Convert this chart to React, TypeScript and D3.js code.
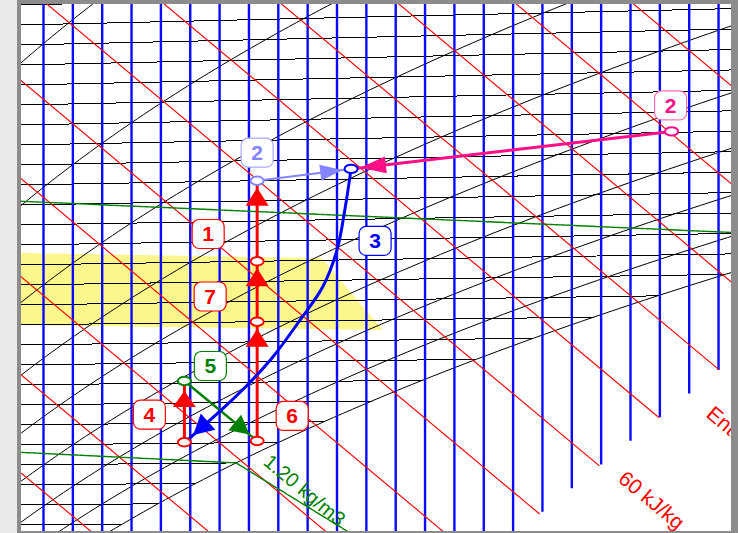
import React from 'react';
import * as d3 from 'd3';

const WIDTH = 738;
const HEIGHT = 533;

// ---- chart constants (Mollier h-x diagram) ----
const PRESSURE = 99900; // Pa
const ENTHALPY_SHIFT = 2.32; // kJ/kg, reference offset of the enthalpy labels

// grid values
const MOISTURE_LINES = [7.5, 8, 8.5, 9, 9.5, 10, 10.5, 11, 11.5, 12, 12.5, 13, 13.5, 14, 14.5, 15, 15.5, 16, 16.5, 17, 17.5, 18, 18.5, 19];
const ISOTHERMS = [11, 12, 13, 14, 15, 16, 17, 18, 19, 20, 21, 22, 23, 24, 25, 26, 27, 28, 29, 30, 31, 32, 33, 34, 35, 36, 37, 38, 39];
const ENTHALPY_LINES = [30, 35, 40, 45, 50, 55, 60, 65, 70, 75, 80, 85];
const RH_LINES = [0.2, 0.3, 0.4, 0.5, 0.6, 0.7, 0.8, 0.9, 1.0];
const DENSITY_LINES = [1.15, 1.2];
const LOWER_EDGE_X = [16, 19];
const LOWER_EDGE_Y = [12.9, 20.13];

// comfort zone (x g/kg, t °C)
const COMFORT_X = [6.5, 12.24, 13.28, 6.5];
const COMFORT_T = [25.66, 25.11, 21.5, 22.05];

// process states (x g/kg, t °C)
const STATE_NAMES = ['A', 'B', 'C', 'D', 'E', 'F', 'G', 'H'];
const STATE_X = [9.9, 9.9, 11.14, 11.14, 11.14, 11.14, 12.74, 18.2];
const STATE_T = [16.05, 19.1, 16.08, 22.0, 25.0, 29.0, 29.5, 31.05];

// cooling curve G -> A
const COOL_X = [12.74, 12.64, 12.5, 12.26, 11.87, 11.41, 11.02, 10.59, 9.91];
const COOL_T = [29.5, 27.6, 25.5, 23.7, 22.05, 20.25, 19.0, 17.8, 16.05];

const RED = '#ff0000';
const GREEN = '#008000';
const BLUE = '#0000ff';
const LBLUE = '#8484ff';
const MAGENTA = '#ff0f87';

const STATE_COLORS = [RED, GREEN, RED, RED, RED, LBLUE, BLUE, MAGENTA];

const ps = (t: number) => 610.94 * Math.exp((17.625 * t) / (t + 243.04));
const xFromPv = (pv: number) => (622 * pv) / (PRESSURE - pv);
const xSat = (t: number) => xFromPv(ps(t));
const Yof = (xv: number, t: number) => (1.006 + 0.00186 * xv) * t;
const edgeSlope = (LOWER_EDGE_Y[1] - LOWER_EDGE_Y[0]) / (LOWER_EDGE_X[1] - LOWER_EDGE_X[0]);
const edgeY = (xv: number) => LOWER_EDGE_Y[0] + (xv - LOWER_EDGE_X[0]) * edgeSlope;

function tForRhoUnsat(rho: number, xv: number) {
  const pv = (xv * PRESSURE) / (622 + xv);
  return ((PRESSURE - pv) / 287.05 + pv / 461.5) / rho - 273.15;
}
function rhoFog(t: number, xv: number) {
  const xs = xSat(t);
  return (PRESSURE * (1 + xv / 1000)) / (287.05 * (t + 273.15) * (1 + (1.608 * xs) / 1000));
}
function YFog(t: number, xv: number) {
  const xs = xSat(t);
  return 1.006 * t + xs * (2.501 + 0.00186 * t) + (xv - xs) * 0.00419 * t - 2.501 * xv;
}

export default function App() {
  const x = d3.scaleLinear().domain([7.5, 19]).range([43.5, 718.55]);
  const y = d3.scaleLinear().domain([38.73, 12]).range([5, 5 + 26.73 * 19.62]);
  const P = (xv: number, t: number): [number, number] => [x(xv), y(Yof(xv, t))];
  const line = d3.line<[number, number]>();

  const isoPaths = ISOTHERMS.map((t) => {
    const xe = Math.min(xSat(t), 21);
    return line([P(6.5, t), P(xe, t)]);
  });

  const rhPaths = RH_LINES.map((phi) => {
    const pts: [number, number][] = [];
    for (let t = 0; t <= 50; t += 0.2) {
      const xv = xFromPv(phi * ps(t));
      if (xv < 5 || xv > 22) continue;
      pts.push(P(xv, t));
    }
    return line(pts);
  });

  const enthPaths = ENTHALPY_LINES.map((h) => {
    const hh = h - ENTHALPY_SHIFT;
    const b0 = LOWER_EDGE_Y[0] - LOWER_EDGE_X[0] * edgeSlope;
    const xe = (hh - b0) / (2.501 + edgeSlope);
    const pts: [number, number][] = [
      [x(5), y(hh - 2.501 * 5)],
      [x(xe), y(hh - 2.501 * xe)],
    ];
    return { h, d: line(pts), end: pts[1] };
  });

  const moistPaths = MOISTURE_LINES.map((m) => line([[x(m), y(42)], [x(m), y(edgeY(m))]]));

  const densPaths = DENSITY_LINES.map((rho) => {
    const pts: [number, number][] = [];
    let bend: [number, number] | null = null;
    for (let xv = 6.5; xv <= 21; xv += 0.05) {
      const t = tForRhoUnsat(rho, xv);
      if (xv <= xSat(t)) {
        pts.push(P(xv, t));
      } else {
        let lo = -20, hi = 50;
        for (let i = 0; i < 60; i++) {
          const mid = (lo + hi) / 2;
          if (rhoFog(mid, xv) > rho) lo = mid; else hi = mid;
        }
        const tf = (lo + hi) / 2;
        const Yv = YFog(tf, xv);
        if (Yv < edgeY(xv)) break;
        if (!bend) bend = pts[pts.length - 1];
        pts.push([x(xv), y(Yv)]);
      }
    }
    return { rho, d: line(pts), pts, bend };
  });

  const comfort = line(COMFORT_X.map((xv, i) => P(xv, COMFORT_T[i]))) + 'Z';

  const S: Record<string, [number, number]> = {};
  STATE_NAMES.forEach((n, i) => (S[n] = P(STATE_X[i], STATE_T[i])));

  const coolPts = COOL_X.map((xv, i) => P(xv, COOL_T[i]));
  const coolPath = d3.line<[number, number]>().curve(d3.curveCatmullRom.alpha(0.5))(coolPts);

  const head = (from: [number, number], to: [number, number], gap: number, len: number, w: number) => {
    const dx = to[0] - from[0], dy = to[1] - from[1];
    const L = Math.hypot(dx, dy);
    const ux = dx / L, uy = dy / L;
    const tx = to[0] - ux * gap, ty = to[1] - uy * gap;
    const bx = tx - ux * len, by = ty - uy * len;
    const nx = -uy, ny = ux;
    return `M${tx},${ty}L${bx + (nx * w) / 2},${by + (ny * w) / 2}L${bx - (nx * w) / 2},${by - (ny * w) / 2}Z`;
  };

  const straight = [
    { a: 'E', b: 'F', c: RED, w: 3, gap: 7, len: 18, hw: 23 },
    { a: 'D', b: 'E', c: RED, w: 3, gap: 7, len: 18, hw: 23 },
    { a: 'C', b: 'D', c: RED, w: 3, gap: 7, len: 18, hw: 23 },
    { a: 'A', b: 'B', c: RED, w: 3, gap: 10, len: 16, hw: 23 },
    { a: 'B', b: 'C', c: GREEN, w: 2.5, gap: 10, len: 19, hw: 20 },
    { a: 'F', b: 'G', c: LBLUE, w: 2, gap: 9, len: 22, hw: 16 },
    { a: 'H', b: 'G', c: MAGENTA, w: 3, gap: 9, len: 26, hw: 17 },
  ];

  const mid = (a: string, b: string): [number, number] => [(S[a][0] + S[b][0]) / 2, (S[a][1] + S[b][1]) / 2];
  const labels = [
    { t: '1', c: RED, s: RED, at: mid('E', 'F'), dx: -49, dy: 13 },
    { t: '2', c: LBLUE, s: '#a8a8ff', at: S['F'], dx: 0, dy: -28 },
    { t: '2', c: MAGENTA, s: '#ff70b8', at: S['H'], dx: -1, dy: -26 },
    { t: '3', c: BLUE, s: BLUE, at: S['G'], dx: 24, dy: 72 },
    { t: '4', c: RED, s: RED, at: mid('A', 'B'), dx: -35, dy: 3 },
    { t: '5', c: GREEN, s: GREEN, at: S['B'], dx: 26, dy: -15 },
    { t: '6', c: RED, s: RED, at: S['C'], dx: 35, dy: -25 },
    { t: '7', c: RED, s: RED, at: mid('D', 'E'), dx: -47, dy: 5 },
  ];

  const e60 = enthPaths.find((e) => e.h === 60)!;
  const angE = (Math.atan2(2.501 * 19.62, 58.7) * 180) / Math.PI;
  const ue = [Math.cos((angE * Math.PI) / 180), Math.sin((angE * Math.PI) / 180)];
  const e60a: [number, number] = [e60.end[0] + ue[0] * 23, e60.end[1] + ue[1] * 23];

  const d120 = densPaths.find((d) => d.rho === 1.2)!;
  const bend = d120.bend || [235, 459];
  const dLab: [number, number] = [bend[0] + 28, bend[1] + 1];

  const coolN = coolPts.length;
  const rotFont = "Arial, 'Liberation Sans', sans-serif";

  return (
    <div style={{ position: 'absolute', left: 0, top: 0 }}>
      <svg width={WIDTH} height={HEIGHT} style={{ display: 'block' }} fontFamily="Arial, 'Liberation Sans', sans-serif">
        <defs>
          <clipPath id="plot">
            <rect x={21} y={4} width={710} height={527} />
          </clipPath>
        </defs>
        <rect x={0} y={0} width={WIDTH} height={HEIGHT} fill="#ebebeb" />
        <rect x={17} y={0} width={WIDTH - 17} height={HEIGHT} fill="#8c8c8c" />
        <rect x={21} y={4} width={710} height={527} fill="#ffffff" />
        <g clipPath="url(#plot)">
          <path d={comfort} fill="#fbf78c" stroke="none" />
          {isoPaths.map((d, i) => (
            <path key={'i' + i} d={d!} stroke="#000" strokeWidth={1} fill="none" shapeRendering="crispEdges" />
          ))}
          {rhPaths.map((d, i) => (
            <path key={'r' + i} d={d!} stroke="#000" strokeWidth={1} fill="none" />
          ))}
          {moistPaths.map((d, i) => (
            <path key={'m' + i} d={d!} stroke="#0a0aff" strokeWidth={2.4} fill="none" />
          ))}
          {enthPaths.map((e, i) => (
            <path key={'e' + i} d={e.d!} stroke={RED} strokeWidth={1.15} fill="none" />
          ))}
          {densPaths.map((d, i) => (
            <path key={'d' + i} d={d.d!} stroke={GREEN} strokeWidth={1.4} fill="none" />
          ))}
          <text x={e60a[0]} y={e60a[1]} fill={RED} fontSize={21} fontFamily={rotFont} transform={`rotate(${angE} ${e60a[0]} ${e60a[1]})`}>
            60 kJ/kg
          </text>
          <text x={705} y={416} fill={RED} fontSize={21} fontFamily={rotFont} transform={`rotate(${angE} 705 416)`}>
            Enthalpie
          </text>
          <text x={dLab[0]} y={dLab[1]} fill={GREEN} fontSize={20} fontFamily={rotFont} transform={`rotate(${angE} ${dLab[0]} ${dLab[1]})`}>
            1.20 kg/m3
          </text>

          {straight.map((s, i) => (
            <path key={'sl' + i} d={line([S[s.a], S[s.b]])!} stroke={s.c} strokeWidth={s.w} fill="none" />
          ))}
          <path d={coolPath!} stroke={BLUE} strokeWidth={3} fill="none" />
          {straight.map((s, i) => (
            <path key={'sh' + i} d={head(S[s.a], S[s.b], s.gap, s.len, s.hw)} fill={s.c} />
          ))}
          <path d={head(coolPts[coolN - 2], coolPts[coolN - 1], 11, 20, 22)} fill={BLUE} />
          {STATE_NAMES.map((n, i) => (
            <ellipse key={'c' + i} cx={S[n][0]} cy={S[n][1]} rx={6.5} ry={4.2} fill="#fff" stroke={STATE_COLORS[i]} strokeWidth={2} />
          ))}
          {labels.map((l, i) => {
            const cx = l.at[0] + l.dx, cy = l.at[1] + l.dy;
            return (
              <g key={'l' + i}>
                <rect x={cx - 16} y={cy - 14.5} width={32} height={29} rx={7} fill="#fff" stroke={l.s} strokeWidth={1.2} />
                <text x={cx} y={cy + 7.5} textAnchor="middle" fontSize={21} fontWeight="bold" fill={l.c}>
                  {l.t}
                </text>
              </g>
            );
          })}
        </g>
      </svg>
    </div>
  );
}
